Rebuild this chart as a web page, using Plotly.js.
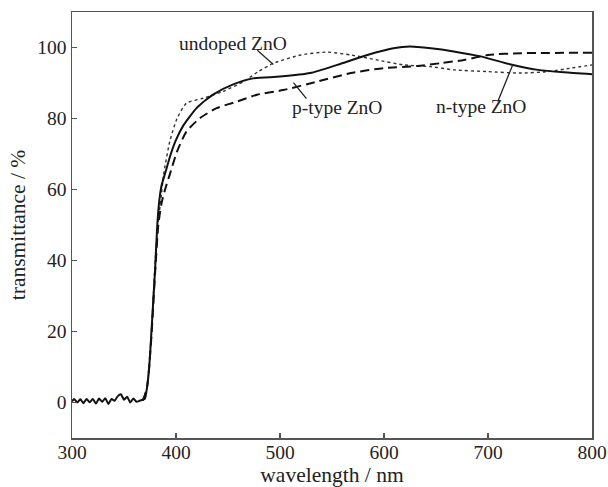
<!DOCTYPE html>
<html>
<head>
<meta charset="utf-8">
<script src="https://cdn.plot.ly/plotly-3.0.1.min.js"></script>
<style>html,body{margin:0;padding:0;background:#fff}#chart{width:608px;height:487px}</style>
</head>
<body>
<div id="chart"></div>
<script>
// n-type ZnO (solid)
const nX = [300,302,305,308,311,314,317,320,323,326,329,332,335,338,341,344,347,350,353,356,359,362,365,368,370,372,374,376,378,380,382,384,386,390,395,400,407,420,436,455,474,500,529,555,584,609,625,645,667,693,722,748,773,800];
const nY = [0.3,1.0,0.0,0.9,-0.2,1.0,0.1,1.0,-0.3,1.1,0.2,1.2,-0.4,1.0,0.5,1.8,2.3,0.8,1.6,0.0,1.1,0.2,0.5,0.8,1,4,9,18,28,38,50,57,61,65,70,74,78,83,86.8,89.6,91.3,91.8,92.8,95.1,97.9,99.8,100.3,99.8,98.9,97.5,95.2,93.7,93,92.5];
// p-type ZnO (dashed)
const pX = [368,372,376,380,383,386,390,394,401,410,423,439,459,478,503,536,568,600,632,655,677,700,732,800];
const pY = [0.5,4,17,37,50,56,60.5,64.2,70.7,76.3,80.1,82.9,84.8,86.7,88,90.4,92.8,94.2,94.8,95.6,96.5,97.9,98.4,98.5];
// undoped ZnO (dotted)
const uX = [368,372,376,380,383,386,388,394,401,410,426,445,465,479,494,520,545,568,593,619,645,667,700,732,757,780,800];
const uY = [0.5,4,18,40,51,58.6,64,73.5,80,84.3,85.7,87.6,90.4,93.2,95.6,97.9,98.7,97.9,96.5,95.1,94.6,93.7,93.2,92.8,93.2,94.2,95.1];

const xTicks = [300,400,500,600,700,800];
const yTicks = [0,20,40,60,80,100];
const labels = ["undoped ZnO","p-type ZnO","n-type ZnO"];

const font = {family: "Liberation Serif, Times New Roman, serif", size: 19.5, color: "#222"};
const titleFont = {family: "Liberation Serif, Times New Roman, serif", size: 21.5, color: "#222"};

const traces = [
  {x: uX, y: uY, mode: "lines", line: {color: "#333", width: 1.4, dash: "dot", shape: "spline", smoothing: 0.6}, name: labels[0]},
  {x: pX, y: pY, mode: "lines", line: {color: "#111", width: 2, dash: "9px,5px", shape: "spline", smoothing: 0.6}, name: labels[1]},
  {x: nX, y: nY, mode: "lines", line: {color: "#111", width: 2, shape: "spline", smoothing: 0.6}, name: labels[2]}
];

const axisCommon = {
  showgrid: false, zeroline: false, showline: true, mirror: true,
  linecolor: "#555", linewidth: 1.5, ticks: "inside", ticklen: 5, tickwidth: 1.2, tickcolor: "#555",
  tickfont: font, automargin: false
};

const layout = {
  width: 608, height: 487,
  margin: {l: 72, r: 16, t: 12, b: 49},
  paper_bgcolor: "#fff", plot_bgcolor: "#fff",
  showlegend: false,
  font: font,
  xaxis: Object.assign({}, axisCommon, {range: [300, 800], tickvals: xTicks, ticktext: xTicks.map(String),
    ticklabelstandoff: -4,
    title: {text: "wavelength / nm", font: titleFont, standoff: 0}}),
  yaxis: Object.assign({}, axisCommon, {range: [-10, 110], tickvals: yTicks, ticktext: yTicks.map(String),
    title: {text: "transmittance / %", font: titleFont, standoff: 6}}),
  shapes: [
    {type: "line", xref: "x", yref: "y", x0: 478.2, y0: 99.2, x1: 493.6, y1: 95.2, line: {color: "#222", width: 1.3}},
    {type: "line", xref: "x", yref: "y", x0: 512.9, y0: 90.1, x1: 525.4, y1: 85.6, line: {color: "#222", width: 1.3}},
    {type: "line", xref: "x", yref: "y", x0: 723.9, y0: 95.2, x1: 709.4, y1: 84.8, line: {color: "#222", width: 1.3}}
  ],
  annotations: [
    {x: 454.6, y: 101.2, xref: "x", yref: "y", text: labels[0], showarrow: false, font: font},
    {x: 555, y: 83.0, xref: "x", yref: "y", text: labels[1], showarrow: false, font: font},
    {x: 693, y: 83.4, xref: "x", yref: "y", text: labels[2], showarrow: false, font: font}
  ]
};

Plotly.newPlot("chart", traces, layout, {displayModeBar: false, staticPlot: true});
</script>
</body>
</html>
